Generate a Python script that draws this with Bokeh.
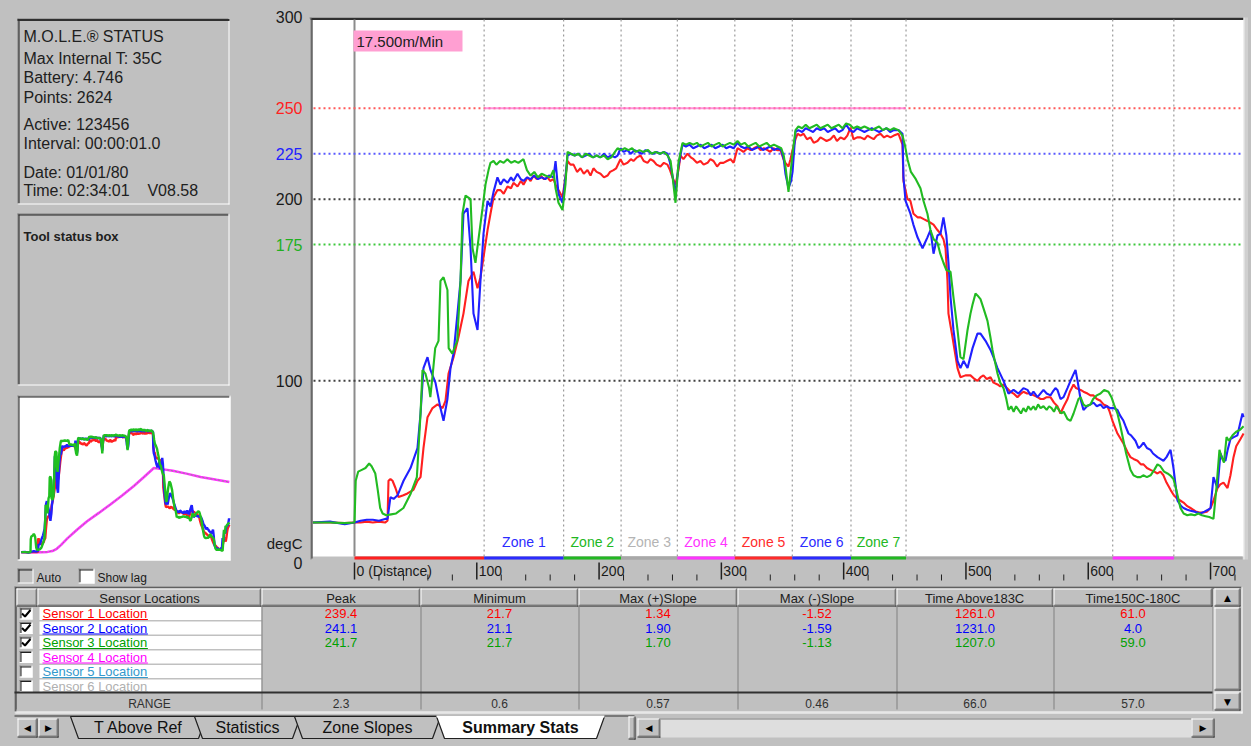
from bokeh.plotting import figure
from bokeh.models import Range1d
from bokeh.core.properties import value
from bokeh.embed import file_html
from bokeh.resources import INLINE

# ---------------------------------------------------------------- data
# temperature profiles: (distance, degC)
sensor1 = [(-34,22),(-20,22),(-8,21.7),(0,22),(5,22),(10,22.5),(15,22),(20,22.5),(25,22),(27,23),(27.8,45),(29.4,46),(31.1,45),(33.5,41),(36,36),(40,37),(43.3,38),(48.2,40),(51.5,45),(54,47),(56.4,63),(59.7,80),(63.8,85),(67.9,87),(72,85),(74.4,89),(76.9,104),(81,113),(85,124),(89.1,137),(93.2,155),(97.3,160),(100.6,151),(103,157),(105.5,168),(108.8,183),(111.2,192),(113.7,201),(116.9,205),(119.4,205),(122,203),(125.1,207),(128,206),(130,209),(133.3,207),(136,210),(138.2,208),(141.5,212),(144,210),(146.4,213),(149,211),(152.1,213),(155,211),(157.8,212),(160,210),(162.7,211),(164.4,208),(166.8,205),(170.1,201),(172.5,212),(174.2,221),(176.6,219),(179.1,219),(182,215),(184.8,217),(187.5,214),(190.5,216),(193,213),(195.4,217),(198,215),(201.2,214),(204,212),(206.9,213),(209,215),(211.8,216),(214,217),(217.5,222),(220,219),(223.2,220),(226,222),(228.1,221),(231,223),(233.9,224),(236.5,221),(239.6,220),(242,222),(244.5,221),(247,219),(250.2,218),(253,220),(255.9,219),(258,216),(260,212),(262.5,208),(264.9,216),(266.6,224),(269,222),(272.3,225),(275,223),(277.2,222),(280,220),(282.9,221),(285.5,219),(288.7,220),(291,222),(293.6,221),(296.5,218),(299,220),(301.7,220),(304.5,221),(307.5,222),(310,220),(313.2,228),(316,227),(318,226),(321.4,228),(324,227),(326.5,228),(329.5,229),(332,227),(334.8,228),(337.7,227),(340,226),(342.6,228),(345.5,227),(348.4,227),(350.8,222),(352.4,220),(354.9,218),(356.5,222),(358.2,227),(360.6,233),(362.3,236),(364.7,235),(367.2,236),(370,233),(372.9,234),(375.5,231),(378.6,232),(381,234),(383.5,233),(386,232),(389.2,233),(392,235),(394.5,232),(397.4,234),(400.5,233),(403,235),(405.6,239.4),(408,233),(411,234),(413.8,234),(417,233),(419.5,235),(421.9,234),(424.5,233),(427,235),(430.1,236),(433,234),(435.5,235),(438.3,234),(441,235),(444.8,236),(448.1,230),(448.9,210),(452.2,200),(454.6,199),(457.1,192),(460.4,190),(462.8,190),(465.5,189),(468.5,188),(471,187),(473.5,186),(476.7,183),(479.2,181),(481.6,178),(483.3,173),(484.9,155),(485.7,137),(489,124),(493.1,107),(495.5,102),(499.6,103),(503.7,103),(507,101),(509.4,100),(512,102),(514.3,103),(517,101),(520.1,102),(522.5,99),(525.8,98),(528,97),(530.7,98),(533.5,96),(536.4,94),(539,93),(542.1,91),(545,93),(547,94),(550,93),(552.8,93),(555.5,92),(558.5,91),(561,90),(563.4,90),(566,91),(569.1,91),(572,88),(574.8,86),(577.3,82),(580,86),(583.1,90),(585,94),(588,98),(590,96),(593.7,95),(596.1,94),(599.4,93),(601.8,92),(604.3,92),(607,90),(610,89),(612.5,87),(615.7,86),(617.5,83),(619.8,78),(623.9,71),(628.8,65.5),(632,61),(634.5,58),(637,57),(640.3,56),(643,54),(645.2,54),(648,52),(650.9,51),(654,50),(656.6,49),(659,50),(661.5,48),(664,44),(667.3,40),(670,37),(673,35),(675.5,34),(677.9,33),(681,31),(683.6,30),(686,29),(688,28),(691,27.5),(694.2,27.5),(697,28),(700,30),(702.4,34),(705.7,41),(708,43),(710.6,44),(713.9,41),(716.3,48),(718.8,58),(721,64),(724.5,68),(727,71)]

sensor2 = [(-34,22),(-20,22.5),(-8,21.1),(0,22),(5,23),(10,23.5),(15,23.5),(20,23),(25,24),(27,24),(29.4,36),(32,35),(35.2,37),(40.1,45),(45.8,52),(51.5,63),(54,82),(56.4,107),(59.7,113),(62.1,106),(66.2,99),(70.3,85),(72.8,78),(76,90),(78.5,107),(81,115),(84.2,137),(86.7,155),(89.1,192),(92.4,195),(94.9,173),(97.3,137),(100.6,128),(103,155),(105.5,181),(108.8,199),(111.2,196),(113.7,204),(116.9,212),(119.4,208),(122,211),(125.1,209),(128,212),(130,210),(133.3,214),(136,211),(138.2,210),(141,212),(143.9,211),(147,213),(150,211),(153,212),(156,211),(159,213),(162.7,212),(164.4,221),(166.8,203),(170.1,198),(172.5,212),(174.2,224),(176.6,225),(180,224),(183,225),(186,223),(189,224),(192,225),(195,223),(198,224),(201,223),(204,225),(207,223),(210,224),(213,223),(215.1,224),(217.5,228),(220,226),(223,227),(226,225),(229,227),(232,226),(235,225),(238,227),(241,226),(244,225),(247,226),(250,225),(253,226),(255.9,225),(258,220),(260,213),(262.5,203),(264.9,218),(268.2,230),(271,229),(274,230),(277,228),(280,229),(283,230),(286,228),(289,229),(292,230),(295,228),(298,229),(301,230),(304,228),(307,229),(310,228),(313.2,231),(316,229),(319,228),(322,229),(325,227),(328,228),(331,229),(334,227),(337,228),(340,229),(343,227),(346,228),(349,227),(351,222),(352.4,214),(354.9,206),(357,210),(358.2,215),(360.6,237),(363,238),(366,237),(369,239),(372,238),(375,237),(378,239),(381,238),(384,239),(387,237),(390,238),(393,239),(396,237),(399,238),(402,241.1),(405,238),(408,237),(411,239),(414,238),(417,237),(420,238),(423,239),(426,238),(429,237),(432,238),(435,239),(438,237),(441,238),(444.8,238),(448.1,236),(448.9,212),(450.6,199),(454.6,192),(457,186),(460.4,179),(464.5,173),(466.5,176),(468.5,179),(471,183),(473.5,170),(476.7,180),(479.2,181),(481.6,190),(484,180),(485.7,165),(487.4,146),(489.8,128),(493.1,111),(495.5,107),(498,111),(501.3,107),(505.4,118),(509.4,126),(511.9,126),(516,122),(520.1,117),(522.5,113),(525.8,107),(530.7,100),(534.8,93),(538.9,95),(543,93),(547,96),(550.3,95),(553,92),(555.2,94),(558.5,91),(563.4,95),(566,93),(569.1,92),(571,94),(573.2,96),(574.8,95),(577.3,90),(579.8,91),(583,96),(585.5,100),(587.5,103),(589.6,106),(591.5,99),(593.7,90),(596.1,84),(599,86),(601.8,87),(604.3,88),(607,86),(610,87),(612.5,85),(615,86),(618,85),(620.6,85),(623.9,84),(626,81),(628.8,78),(630.5,75),(632.9,71),(635,70),(638.6,67),(641.1,63),(643,64),(645.2,66),(648,63),(650.9,62),(653,60),(656.6,58),(659,57),(661.5,56),(664,58),(667.3,62),(669.7,52),(671.5,42),(673,34),(676,31),(677.9,30),(681,29),(683.6,28.5),(687,28),(691.8,27),(695,28),(698,29),(700,30),(702.4,47),(704,44),(705.7,41),(708.1,60),(710,57),(712.2,56),(714,62),(716.3,68),(719,69),(722,70),(724,76),(726.1,82),(727,80)]

sensor3 = [(-34,22),(-20,22),(-8,21.7),(0,22),(1,45),(3,50),(6,51),(9,52),(12,54.5),(14,53),(17,49),(19,40),(21,30),(23,27),(26,26),(30,26.5),(34,27),(40,30),(46,38),(51,47),(54,82),(55.6,106),(58,104),(61,96),(62,91),(64,104),(66,118),(68.7,122),(70.3,155),(72.8,157),(76,150),(77,118),(80,115),(84,122),(86.7,155),(88.3,192),(90.8,202),(94.9,200),(96.5,173),(98.9,165),(101.4,178),(104.7,195),(107.1,208),(109.6,216),(111.2,220),(113.7,221),(116,219),(119,221),(122,220),(125,222),(128,220),(131,221),(134,220),(138.2,222),(141,216),(144,213),(147,215),(150,212),(153,214),(156,213),(160,212),(162.7,216),(164.4,206),(166.8,198),(170.1,194),(172.5,208),(174.2,226),(177,225),(180,224),(183,225),(186,223),(189,225),(192,224),(195,223),(198,224),(201,223),(204,224),(207,222),(210,223),(213,226),(215.1,228),(218,227),(221,228),(224,227),(227,228),(230,226),(233,227),(236,226),(240,227),(243,225),(246,226),(250,225),(253,226),(256,224),(258.5,221),(260,213),(262.5,198),(264.9,220),(268.2,231),(271,230),(274,231),(277,230),(280,231),(283,229),(286,230),(289,231),(292,229),(295,230),(298,231),(301,229),(304,230),(307,231),(310,230),(313.2,232),(316,230),(319,231),(322,229),(325,230),(328,231),(331,229),(334,230),(337,231),(340,229),(343,230),(346,229),(349,228),(351,224),(352.4,218),(354.9,204),(356.5,214),(358.2,225),(360.6,238),(363,240),(366,239),(369,241),(372,239),(375,240),(378,241),(381,239),(384,240),(387,241),(390,239),(393,240),(396,241),(399,239),(402,241.7),(405,241),(408,239),(411,240),(414,239),(417,240),(420,239),(423,238),(426,239),(429,240),(432,238),(435,239),(438,238),(441,239),(444.8,238),(448.1,235),(450,230),(452.2,222),(455,215),(459,211),(462.8,206),(465.3,199),(468.5,192),(471,183),(473.5,178),(476.7,176),(479,170),(481.6,165),(484,161),(487.4,160),(489.8,146),(493.1,128),(495.5,113),(498,112),(501.3,128),(503.7,137),(505.4,142),(507.8,148),(509.4,147),(511.9,145),(514.3,140),(517.6,133),(520,124),(521.7,117),(525.8,104),(528,99),(530.7,96),(533,90),(534.8,84),(537,86),(539,83),(541,86),(543,84),(545,82),(547,85),(549,83),(551,86),(553,84),(555.2,86),(557,84),(559,87),(561,85),(563.4,86),(566,84),(568,86),(570,85),(572,83),(574,86),(576,84),(578,82),(580,83),(583,79),(585.5,78),(588,82),(590,86),(592,90),(593.7,91),(596,87),(598,86),(601.8,87),(604,90),(607,92),(610,93),(613,95),(616.5,94),(619,91),(621,87),(623.9,82),(626,76),(628.8,67),(631,60),(634.5,51),(637,48),(640,47),(642.7,47),(645,48),(648,47),(651,48),(654,51),(656.6,54),(659,53),(662,50),(664.8,49),(667,48),(669.7,46),(672,40),(675.4,30),(678,27),(681,26),(684,26.5),(687,26),(690,27),(693,26),(696,25.5),(699,25),(702.4,24),(704.8,41),(707.3,62),(709,58),(711,55),(713.1,69),(715,67),(718,70),(721,72),(724,73),(727,75)]

# slower reference trace shown only in the overview panel
lag_profile = [(-34,22),(40,22),(62,22.5),(80,24),(96,28),(112,35),(134,46),(170,62),(207,77),(250,92),(292,107),(335,123),(378,140),(415,156),(451,172),(480,170),(520,167),(570,162),(622,156),(680,151),(727,147)]

zone_edges = [106, 171, 218, 264, 311, 358, 406, 451]
zone_labels = ["Zone 1", "Zone 2", "Zone 3", "Zone 4", "Zone 5", "Zone 6", "Zone 7"]
zone_colors = ["#2b2bff", "#22b822", "#b4b4b4", "#ff33ff", "#ff2b2b", "#2b2bff", "#22b822"]
entry_span = (0, 106)
cooling_span = (620, 670)

ref_levels = [250, 225, 200, 175, 100]
ref_colors = ["#ff5a5a", "#5a5aff", "#404040", "#3cc83c", "#404040"]
y_ticks = [300, 250, 225, 200, 175, 100, 0]
y_tick_colors = ["#1a1a1a", "#ff2020", "#2020ff", "#1a1a1a", "#20b020", "#1a1a1a", "#1a1a1a"]
x_ticks = [0, 100, 200, 300, 400, 500, 600, 700]
x_tick_labels = ["0 (Distance)", "100", "200", "300", "400", "500", "600", "700"]

sensor_names = ["Sensor 1 Location", "Sensor 2 Location", "Sensor 3 Location",
                "Sensor 4 Location", "Sensor 5 Location", "Sensor 6 Location"]
sensor_colors = ["#ff0000", "#0000ff", "#00a000", "#ff00ff", "#3399cc", "#b0b0b0"]
sensor_checked = [True, True, True, False, False, False]

table_columns = ["Peak", "Minimum", "Max (+)Slope", "Max (-)Slope", "Time Above183C", "Time150C-180C"]
peak = [239.4, 241.1, 241.7]
minimum = [21.7, 21.1, 21.7]
max_pos_slope = [1.34, 1.90, 1.70]
max_neg_slope = [-1.52, -1.59, -1.13]
time_above_183 = [1261.0, 1231.0, 1207.0]
time_150_180 = [61.0, 4.0, 59.0]
column_range = [2.3, 0.6, 0.57, 0.46, 66.0, 57.0]

NBSP = "\u00a0"
status_lines = ["M.O.L.E.\u00ae STATUS", "Max Internal T: 35C", "Battery: 4.746", "Points: 2624",
                "Active: 123456", "Interval: 00:00:01.0", "Date: 01/01/80",
                "Time: 02:34:01" + NBSP * 4 + "V08.58"]
conveyor_speed = "17.500m/Min"
tab_names = ["T Above Ref", "Statistics", "Zone Slopes", "Summary Stats"]

# ---------------------------------------------------------------- page
W, H = 1251, 746
GRAY, DARK, BLACK, WHITE = "#c0c0c0", "#808080", "#000000", "#ffffff"
FONT = value("Liberation Sans")
SYM = value("DejaVu Sans")

# main trace window: screen x of distance 0 and px per unit, screen y of 0 degC and px per degree
X0, XS = 354.0, 1.2229
Y0, YS = 562.0, 1.8167
# overview window
MX0, MXS = 30.0, 0.2735
MY0, MYS = 564.0, 0.561

p = figure(width=W, height=H, x_range=Range1d(0, W), y_range=Range1d(H, 0),
           output_backend="svg", toolbar_location=None, title=None,
           x_axis_location=None, y_axis_location=None, min_border=0)
p.grid.visible = False
p.outline_line_color = None
p.background_fill_color = GRAY
p.border_fill_color = GRAY
p.extra_x_ranges = {"dist": Range1d(-X0 / XS, (W - X0) / XS),
                    "mdist": Range1d(-MX0 / MXS, (W - MX0) / MXS)}
p.extra_y_ranges = {"temp": Range1d((Y0 - H) / YS, Y0 / YS),
                    "mtemp": Range1d((MY0 - H) / MYS, MY0 / MYS)}


def box(l, t, r, b, fill=GRAY, line=None):
    p.quad(left=[l], right=[r], top=[t], bottom=[b], fill_color=fill, line_color=line)


def hline(x0, x1, y, color, w=1, dash="solid"):
    p.segment(x0=[x0], y0=[y], x1=[x1], y1=[y], line_color=color, line_width=w, line_dash=dash)


def vline(x, y0, y1, color, w=1, dash="solid"):
    p.segment(x0=[x], y0=[y0], x1=[x], y1=[y1], line_color=color, line_width=w, line_dash=dash)


def sunken(l, t, r, b, fill=GRAY):
    box(l, t, r, b, fill)
    hline(l, r, t + 0.5, DARK); vline(l + 0.5, t, b, DARK)
    hline(l + 1, r - 1, t + 1.5, "#202020"); vline(l + 1.5, t + 1, b - 1, "#202020")
    hline(l, r, b - 0.5, WHITE); vline(r - 0.5, t, b, WHITE)


def raised(l, t, r, b, fill=GRAY):
    box(l, t, r, b, fill)
    hline(l, r, t + 0.5, WHITE); vline(l + 0.5, t, b, WHITE)
    hline(l, r, b - 0.5, "#202020"); vline(r - 0.5, t, b, "#202020")
    hline(l + 1, r - 1, b - 1.5, DARK); vline(r - 1.5, t + 1, b - 1, DARK)


def txt(x, y, s, size=16, color="#1a1a1a", align="left", bold=False, font=FONT, **kw):
    s = s if isinstance(s, list) else [s]
    n = len(s)
    xs = x if isinstance(x, list) else [x] * n
    ys = y if isinstance(y, list) else [y] * n
    p.text(x=xs, y=ys, text=s, text_font=font,
           text_font_size=f"{size}px", text_color=color, text_align=align,
           text_baseline="middle", text_font_style="bold" if bold else "normal", **kw)


# ---------------- left column: status, tool box, overview
sunken(17, 18, 229, 204)
hline(17, 229, 19.5, "#303030", w=2)
txt(23, [36, 58, 77, 97, 124, 143, 172, 190], status_lines, size=16, color="#202020")

sunken(17, 213, 229, 385)
txt(23, 236, "Tool status box", size=13, bold=True, color="#202020")

sunken(17, 395, 230, 560, fill=WHITE)
MINI = dict(x_range_name="mdist", y_range_name="mtemp")
ld, lt = zip(*lag_profile)
p.line(list(ld), list(lt), line_color="#ff33ff", line_width=2.5, **MINI)
p.line(list(ld), list(lt), line_color="#909090", line_width=1, line_dash="2 2", **MINI)
for prof, col in [(sensor1, "#ff2020"), (sensor2, "#2020ff"), (sensor3, "#20c020")]:
    d, t = zip(*prof)
    p.line(list(d), list(t), line_color=col, line_width=2.4, **MINI)

sunken(17, 568, 33, 583)
txt(36, 577, "Auto", size=12)
sunken(78, 568, 94, 583, fill=WHITE)
txt(97, 577, "Show lag", size=12)

# ---------------- main trace window
CL, CT, CR, CB = 312, 19, 1243, 556
box(CL, CT, CR, CB, WHITE)
hline(309, CR, 17.5, DARK, w=1)
hline(310, CR, 18.5, "#303030", w=2)
vline(310.5, 17, 559, DARK, w=1)
vline(311.5, 18, 558, "#303030", w=1)
vline(1243.5, 17, 559, WHITE, w=1)
vline(1246, 17, 559, "#d0d0d0", w=3)

d_left, d_right = (CL + 1 - X0) / XS, (CR - 1 - X0) / XS
DIST = dict(x_range_name="dist")
TEMP = dict(y_range_name="temp")

# zone boundary verticals
edges = zone_edges + list(cooling_span)
p.segment(x0=edges, x1=edges, y0=[CT] * len(edges), y1=[CB] * len(edges),
          line_color="#9a9a9a", line_width=1.2, line_dash="2 3", **DIST)
# start-of-profile line
p.segment(x0=[0], x1=[0], y0=[CT], y1=[CB], line_color="#8c8c8c", line_width=2, **DIST)

# reference levels
p.segment(x0=[d_left] * len(ref_levels), x1=[d_right] * len(ref_levels),
          y0=ref_levels, y1=ref_levels, line_color=ref_colors, line_width=2,
          line_dash="2 3", **DIST, **TEMP)
p.segment(x0=[zone_edges[0]], x1=[zone_edges[-1]], y0=[ref_levels[0]], y1=[ref_levels[0]],
          line_color="#ff70d0", line_width=2, line_alpha=0.75, **DIST, **TEMP)

# conveyor speed tag
box(353, 30, 462, 51, "#ff9fd2")
txt(356, 41, conveyor_speed, size=15, color="#202020")

# sensor traces
for prof, col in [(sensor1, "#ff2020"), (sensor2, "#2020ff"), (sensor3, "#22bb22")]:
    d, t = zip(*prof)
    p.line(list(d), list(t), line_color=col, line_width=2.1, **DIST, **TEMP)

# zone labels and zone bars
centers = [(a + b) / 2 for a, b in zip(zone_edges[:-1], zone_edges[1:])]
txt(centers, [541] * len(centers), zone_labels, size=14, color=zone_colors, align="center", **DIST)
p.segment(x0=[0], x1=[d_right], y0=[557.5], y1=[557.5], line_color="#a8a8a8", line_width=3, **DIST)
bar_x0 = [entry_span[0]] + zone_edges[:-1] + [cooling_span[0]]
bar_x1 = [entry_span[1]] + zone_edges[1:] + [cooling_span[1]]
bar_col = ["#ff2020"] + zone_colors + ["#ff33ff"]
bar_col[3] = "#a8a8a8"
p.segment(x0=bar_x0, x1=bar_x1, y0=[557.5] * len(bar_x0), y1=[557.5] * len(bar_x0),
          line_color=bar_col, line_width=3, **DIST)

# temperature labels
txt([302] * len(y_ticks), y_ticks, [str(v) for v in y_ticks], size=16,
    color=y_tick_colors, align="right", **TEMP)
txt(302, 543, "degC", size=15, align="right")

# distance ticks
minor = [v for v in range(20, 721, 20) if v % 100]
p.segment(x0=minor, x1=minor, y0=[574] * len(minor), y1=[580] * len(minor),
          line_color="#202020", line_width=1, **DIST)
p.segment(x0=x_ticks, x1=x_ticks, y0=[562] * len(x_ticks), y1=[579] * len(x_ticks),
          line_color="#202020", line_width=1.5, **DIST)
txt(x_ticks, [570] * len(x_ticks), x_tick_labels, size=14, x_offset=2, **DIST)

# ---------------- summary table
TL, TT, TR, TB = 14, 586, 1242, 713
sunken(TL, TT, TR, TB)
col_edges = [14, 37, 261, 420, 578, 737, 896, 1053, 1212]
headers = ["", "Sensor Locations"] + table_columns
for i, h in enumerate(headers):
    l, r = col_edges[i] + (2 if i == 0 else 0), col_edges[i + 1]
    raised(l, 588, r, 606)
    if h:
        txt((l + r) / 2, 597.5, h, size=13, align="center", color="#202020")

row_y = [613 + 14.5 * i for i in range(6)]
for i, (name, col, chk) in enumerate(zip(sensor_names, sensor_colors, sensor_checked)):
    cy = row_y[i]
    box(39, cy - 6.5, 261, cy + 6.5, WHITE)
    txt(42, cy, name, size=13, color=col)
    hline(42, 42 + 6.2 * len(name), cy + 6, col, w=1)
    sunken(19, cy - 6, 32, cy + 6, fill=WHITE)
    if chk:
        p.line([21.5, 24.5, 30], [cy, cy + 3, cy - 3.5], line_color=BLACK, line_width=2)

columns = [peak, minimum, max_pos_slope, max_neg_slope, time_above_183, time_150_180]
fmts = ["{:.1f}", "{:.1f}", "{:.2f}", "{:.2f}", "{:.1f}", "{:.1f}"]
for j, (vals, fmt) in enumerate(zip(columns, fmts)):
    cx = (col_edges[j + 2] + col_edges[j + 3]) / 2
    txt([cx] * len(vals), row_y[:len(vals)], [fmt.format(v) for v in vals],
        size=13, color=sensor_colors[:len(vals)], align="center")

for x in col_edges[2:]:
    vline(x + 0.5, 606, 711, DARK)
hline(14, 1212, 692, "#303030", w=2)
txt(149, 703, "RANGE", size=12, align="center", color="#303030")
for j, (v, fmt) in enumerate(zip(column_range, fmts)):
    cx = (col_edges[j + 2] + col_edges[j + 3]) / 2
    txt(cx, 703, fmt.format(v), size=12, align="center", color="#303030")
box(16, 709, 1212, 712, GRAY)
hline(14, 1242, 711.5, WHITE)

# vertical scroll bar
box(1213, 588, 1241, 711, "#d8d8d8")
raised(1214, 588, 1240, 606)
txt(1227, 597, "\u25b2", size=9, align="center", font=SYM, color=BLACK)
raised(1214, 607, 1240, 690)
raised(1214, 692, 1240, 710)
txt(1227, 701, "\u25bc", size=9, align="center", font=SYM, color=BLACK)

# ---------------- sheet tabs and horizontal scroll bar
hline(14, 634, 715.5, "#303030", w=1)
raised(17, 718, 37, 737)
txt(27, 727.5, "\u25c0", size=9, align="center", font=SYM, color=BLACK)
raised(38, 718, 58, 737)
txt(48, 727.5, "\u25b6", size=9, align="center", font=SYM, color=BLACK)

tab_shapes = [(70, 206), (194, 300), (294, 440), (436, 604)]
for k, ((l, r), name) in enumerate(zip(tab_shapes, tab_names)):
    active = k == len(tab_names) - 1
    p.patch([l, l + 8, r - 8, r], [716, 738, 738, 716],
            fill_color=WHITE if active else GRAY, line_color="#202020", line_width=1.2)
    txt((l + r) / 2, 727, name, size=16, bold=active, align="center", color="#101010")
hline(436, 604, 716, WHITE, w=2)

raised(628, 716, 635, 739)
raised(637, 718, 660, 737)
txt(648.5, 727.5, "\u25c0", size=9, align="center", font=SYM, color=BLACK)
box(660, 718, 1191, 737, "#dedede")
hline(660, 1191, 718.5, DARK)
raised(1191, 718, 1214, 737)
txt(1202.5, 727.5, "\u25b6", size=9, align="center", font=SYM, color=BLACK)

html = file_html(p, INLINE, "M.O.L.E. profile")
html = html.replace("<head>", "<head><style>html,body{margin:0;padding:0;background:#c0c0c0;}</style>", 1)
open("out.html", "w").write(html)
